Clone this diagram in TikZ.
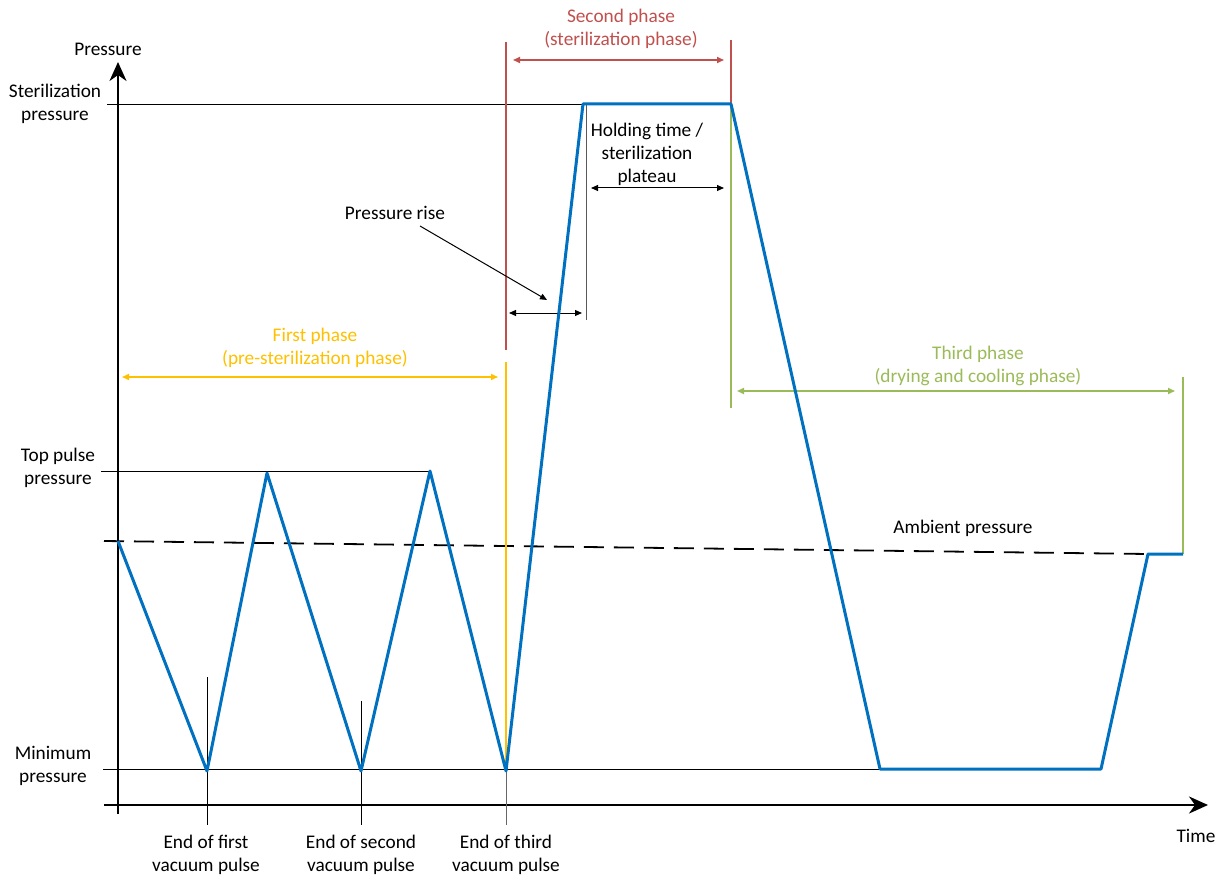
\documentclass[tikz,border=0pt]{standalone}
\usepackage{fontspec}
\setmainfont{Carlito}
\usepackage{tikz}
\usetikzlibrary{arrows.meta}
\usetikzlibrary{positioning}
\definecolor{curveblue}{HTML}{0070C0}
\definecolor{phasered}{HTML}{C0504D}
\definecolor{phaseyellow}{HTML}{FFC000}
\definecolor{phasegreen}{HTML}{9BBB59}
\tikzset{lbl/.style = {inner sep = 0, align = center, font = \fontsize{19.3}{23}\selectfont}}
\tikzset{axis/.style = {line width = 2.4pt, -{Stealth[length = 19pt, width = 17pt, inset = 6pt]}}}
\tikzset{span/.style = {line width = 1pt, {Triangle[length = 7pt, width = 6pt]}-{Triangle[length = 7pt, width = 6pt]}}}
\tikzset{guide/.style = {line width = 0.9pt}}
\tikzset{curve/.style = {curveblue, line width = 3pt, line join = round}}

\begin{document}
\begin{tikzpicture}[x = 1pt, y = -1pt]
    \useasboundingbox (0, 0) rectangle (1230, 877);

    % points of the pressure curve
    \coordinate (p0) at (118, 541);
    \coordinate (v1) at (207, 771);
    \coordinate (t1) at (267, 473);
    \coordinate (v2) at (361, 771);
    \coordinate (t2) at (430, 471);
    \coordinate (v3) at (506, 771);
    \coordinate (s1) at (583, 104);
    \coordinate (s2) at (731, 104);
    \coordinate (m1) at (880, 769);
    \coordinate (m2) at (1101, 769);
    \coordinate (a1) at (1148, 554);
    \coordinate (a2) at (1183, 554);

    % axes
    \coordinate (o1) at (118, 814);
    \coordinate (o2) at (104, 805);
    \coordinate (ytip) at (118, 62);
    \coordinate (xtip) at (1208, 805);
    \draw [axis] (o1) -- (ytip);
    \draw [axis] (o2) -- (xtip);
    \node [lbl] (pressure) at (108, 49) {Pressure};
    \node [lbl] (time) at (1196, 836) {Time};

    % levels
    \node [lbl] (sterp) at (55, 104) {Sterilization\\pressure};
    \node [lbl] (topp) at (58, 468) {Top pulse\\pressure};
    \node [lbl] (minp) at (53, 766) {Minimum\\pressure};
    \draw [guide] (107, 104) -- (s1);
    \draw [guide] (101, 471) -- (t2);
    \draw [guide] (103, 769) -- (m1);
    \coordinate (amb0) at (104, 541);
    \draw [line width = 1.8pt, dash pattern = on 20pt off 10pt] (amb0) -- (a1);
    \node [lbl] (ambient) at (963, 528) {Ambient pressure};

    % ends of vacuum pulses
    \node [lbl] (end1) at (206, 855) {End of first\\vacuum pulse};
    \node [lbl] (end2) at (361, 855) {End of second\\vacuum pulse};
    \node [lbl] (end3) at (506, 855) {End of third\\vacuum pulse};
    \draw [guide] (207, 677) -- (207, 825);
    \draw [guide] (361, 701) -- (361, 825);
    \draw [guide, gray!80!black] (v3) -- (506, 825);

    % first phase
    \draw [phaseyellow, line width = 1.6pt] (506, 362) -- (v3);
    \draw [span, phaseyellow, line width = 1.6pt] (122, 377) -- (498, 377);
    \node [lbl, text = phaseyellow] (first) at (315, 348) {First phase\\(pre-sterilization phase)};

    % second phase
    \draw [phasered, line width = 1.6pt] (506, 42) -- (506, 350);
    \draw [phasered, line width = 1.6pt] (731, 40) -- (s2);
    \draw [span, phasered, line width = 1.6pt] (513, 60) -- (724, 60);
    \node [lbl, text = phasered] (second) at (621, 29) {Second phase\\(sterilization phase)};

    % third phase
    \draw [phasegreen, line width = 1.6pt] (s2) -- (731, 408);
    \draw [phasegreen, line width = 1.6pt] (1183, 377) -- (a2);
    \draw [span, phasegreen, line width = 1.6pt] (737, 391) -- (1175, 391);
    \node [lbl, text = phasegreen] (third) at (978, 366) {Third phase\\(drying and cooling phase)};

    % pressure rise and plateau
    \draw [guide, gray!70!black] (586, 104) -- (586, 320);
    \draw [span] (509, 313) -- (582, 313);
    \draw [span] (591, 188) -- (724, 188);
    \node [lbl] (hold) at (647, 154) {Holding time /\\sterilization\\plateau};
    \node [lbl] (rise) at (395, 213) {Pressure rise};
    \coordinate (risetip) at (547, 300);
    \draw [line width = 1pt, -{Triangle[length = 7pt, width = 6pt]}] (420, 226) -- (risetip);

    % pressure curve
    \draw [curve] (p0) -- (v1) -- (t1) -- (v2) -- (t2) -- (v3) -- (s1) -- (s2)
        -- (m1) -- (m2) -- (a1) -- (a2);
\end{tikzpicture}
\end{document}
